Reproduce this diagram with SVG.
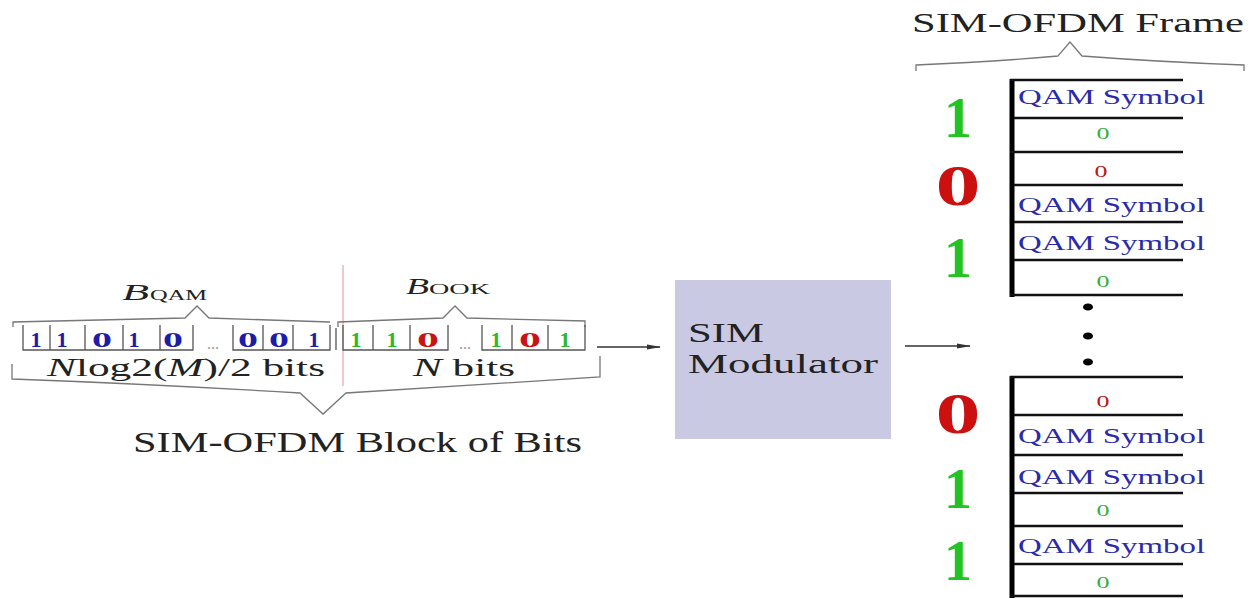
<svg xmlns="http://www.w3.org/2000/svg" width="1255" height="599" viewBox="0 0 1255 599">
<style>
text{font-family:"Liberation Serif","DejaVu Serif",serif}
.lbl{fill:#222}
.bl{fill:#1c1ca8;font-size:22px;font-weight:bold;text-anchor:middle}
.gr{fill:#2cb82c;font-size:22px;font-weight:bold;text-anchor:middle}
.rd{fill:#c81414;font-size:22px;font-weight:bold;text-anchor:middle}
.cell{stroke:#555;stroke-width:1.3;fill:none}
.brace{stroke:#777;stroke-width:1.3;fill:none}
.frm{stroke:#111;stroke-width:2.6}
.qam{fill:#2a2aaa;font-size:22px}
.s0g{fill:#3cae3c;font-size:17px;text-anchor:middle}
.s0r{fill:#b81818;font-size:17px;text-anchor:middle}
.bigg{fill:#22c422;font-size:56px;font-weight:bold;text-anchor:middle}
.bigr{fill:#cc1010;font-size:56px;font-weight:bold;text-anchor:middle}
.conn{stroke:#333;stroke-width:1.5;fill:none}
</style>
<defs>
<marker id="ah" markerWidth="14" markerHeight="6" refX="13" refY="3" orient="auto" markerUnits="userSpaceOnUse">
<path d="M0,0.5 L14,3 L0,5.5 z" fill="#333"/>
</marker>
</defs>

<g id="bit-block">
<line x1="343" y1="265" x2="343" y2="386" stroke="#e3a6a6" stroke-width="1.2"/>
<path class="brace" d="M13,327 L13,322 L185,318 L197,306 L209,318 L330,322"/>
<path class="brace" d="M338,327 L338,322 L443,318 L455,306 L467,318 L585,321 L585,327"/>
<text class="lbl" x="122" y="300" font-size="24" font-style="italic" textLength="27" lengthAdjust="spacingAndGlyphs">B</text>
<text class="lbl" x="150" y="300" font-size="15" textLength="57" lengthAdjust="spacingAndGlyphs">QAM</text>
<text class="lbl" x="406" y="294" font-size="24" font-style="italic" textLength="23" lengthAdjust="spacingAndGlyphs">B</text>
<text class="lbl" x="429" y="294" font-size="15" textLength="61" lengthAdjust="spacingAndGlyphs">OOK</text>
<path class="cell" d="M23,325 V350 H193 V325 M50,325 V350 M85,325 V350 M123,325 V350 M160,325 V350"/>
<path class="cell" d="M233,325 V350 H330 V325 M263,325 V350 M293,325 V350 M336,328 V350"/>
<path class="cell" d="M343,325 V350 H448 V325 M373,325 V350 M410,325 V350"/>
<path class="cell" d="M482,325 V350 H585 V325 M512,325 V350 M548,325 V350"/>
<text class="bl" x="36" y="347">1</text>
<text class="bl" x="62" y="347">1</text>
<text class="bl" x="102" y="347" textLength="20" lengthAdjust="spacingAndGlyphs">0</text>
<text class="bl" x="134" y="347">1</text>
<text class="bl" x="173" y="347" textLength="20" lengthAdjust="spacingAndGlyphs">0</text>
<text x="213" y="349" font-size="16" fill="#999" text-anchor="middle">...</text>
<text class="bl" x="248" y="347" textLength="20" lengthAdjust="spacingAndGlyphs">0</text>
<text class="bl" x="279" y="347" textLength="20" lengthAdjust="spacingAndGlyphs">0</text>
<text class="bl" x="314" y="347">1</text>
<text class="gr" x="356" y="347">1</text>
<text class="gr" x="392" y="347">1</text>
<text class="rd" x="428" y="347" textLength="22" lengthAdjust="spacingAndGlyphs">0</text>
<text x="465" y="349" font-size="16" fill="#999" text-anchor="middle">...</text>
<text class="gr" x="496" y="347">1</text>
<text class="rd" x="530" y="347" textLength="22" lengthAdjust="spacingAndGlyphs">0</text>
<text class="gr" x="565" y="347">1</text>
<text class="lbl" x="47" y="376" font-size="26" textLength="278" lengthAdjust="spacingAndGlyphs"><tspan font-style="italic">N</tspan>log2(<tspan font-style="italic">M</tspan>)/2 bits</text>
<text class="lbl" x="413" y="376" font-size="26" textLength="102" lengthAdjust="spacingAndGlyphs"><tspan font-style="italic">N</tspan> bits</text>
<path class="brace" d="M12,364 L12,379 Q150,384 300,393 L323,414 L346,393 Q480,384 600,377 L600,356"/>
<text class="lbl" x="133" y="452" font-size="29" textLength="449" lengthAdjust="spacingAndGlyphs">SIM-OFDM Block of Bits</text>
</g>

<g id="sim-modulator">
<rect x="675" y="280" width="216" height="159" fill="#c9c9e3"/>
<text class="lbl" x="688" y="342" font-size="27" textLength="76" lengthAdjust="spacingAndGlyphs">SIM</text>
<text class="lbl" x="688" y="373" font-size="27" textLength="190" lengthAdjust="spacingAndGlyphs">Modulator</text>
</g>

<g id="frame">
<text class="lbl" x="912" y="32" font-size="27" textLength="332" lengthAdjust="spacingAndGlyphs">SIM-OFDM Frame</text>
<path class="brace" d="M916,71 L916,65 Q990,62 1058,56 L1070,42 L1082,56 Q1160,62 1244,65 L1244,71"/>
<line x1="1012" y1="79" x2="1012" y2="297" stroke="#000" stroke-width="5"/>
<path class="frm" d="M1010,80 H1183 M1014,118 H1183 M1010,152 H1183 M1014,185 H1183 M1014,222 H1183 M1014,260 H1183 M1010,295 H1183"/>
<text class="qam" x="1018" y="104" textLength="187" lengthAdjust="spacingAndGlyphs">QAM Symbol</text>
<text class="s0g" x="1103" y="139" textLength="13" lengthAdjust="spacingAndGlyphs">0</text>
<text class="s0r" x="1101" y="177" textLength="13" lengthAdjust="spacingAndGlyphs">0</text>
<text class="qam" x="1018" y="212" textLength="187" lengthAdjust="spacingAndGlyphs">QAM Symbol</text>
<text class="qam" x="1018" y="250" textLength="187" lengthAdjust="spacingAndGlyphs">QAM Symbol</text>
<text class="s0g" x="1103" y="287" textLength="13" lengthAdjust="spacingAndGlyphs">0</text>
<text class="bigg" x="958" y="137">1</text>
<text class="bigr" x="958" y="205" textLength="45" lengthAdjust="spacingAndGlyphs">0</text>
<text class="bigg" x="958" y="277">1</text>
<ellipse cx="1088" cy="307" rx="5" ry="3.6" fill="#000"/>
<ellipse cx="1088" cy="336" rx="5" ry="3.6" fill="#000"/>
<ellipse cx="1088" cy="362" rx="5" ry="3.6" fill="#000"/>
<line x1="1012" y1="376" x2="1012" y2="598" stroke="#000" stroke-width="5"/>
<path class="frm" d="M1010,377 H1183 M1014,415 H1183 M1014,455 H1183 M1014,493 H1183 M1014,526 H1183 M1014,564 H1183 M1010,596 H1183"/>
<text class="s0r" x="1103" y="407" textLength="13" lengthAdjust="spacingAndGlyphs">0</text>
<text class="qam" x="1018" y="443" textLength="187" lengthAdjust="spacingAndGlyphs">QAM Symbol</text>
<text class="qam" x="1018" y="484" textLength="187" lengthAdjust="spacingAndGlyphs">QAM Symbol</text>
<text class="s0g" x="1103" y="516" textLength="13" lengthAdjust="spacingAndGlyphs">0</text>
<text class="qam" x="1018" y="553" textLength="187" lengthAdjust="spacingAndGlyphs">QAM Symbol</text>
<text class="s0g" x="1103" y="588" textLength="13" lengthAdjust="spacingAndGlyphs">0</text>
<text class="bigr" x="958" y="433" textLength="45" lengthAdjust="spacingAndGlyphs">0</text>
<text class="bigg" x="958" y="508">1</text>
<text class="bigg" x="958" y="580">1</text>
</g>

<g id="connectors">
<line class="conn" x1="597" y1="347" x2="660" y2="347" marker-end="url(#ah)"/>
<line class="conn" x1="905" y1="346" x2="970" y2="346" marker-end="url(#ah)"/>
</g>
</svg>
